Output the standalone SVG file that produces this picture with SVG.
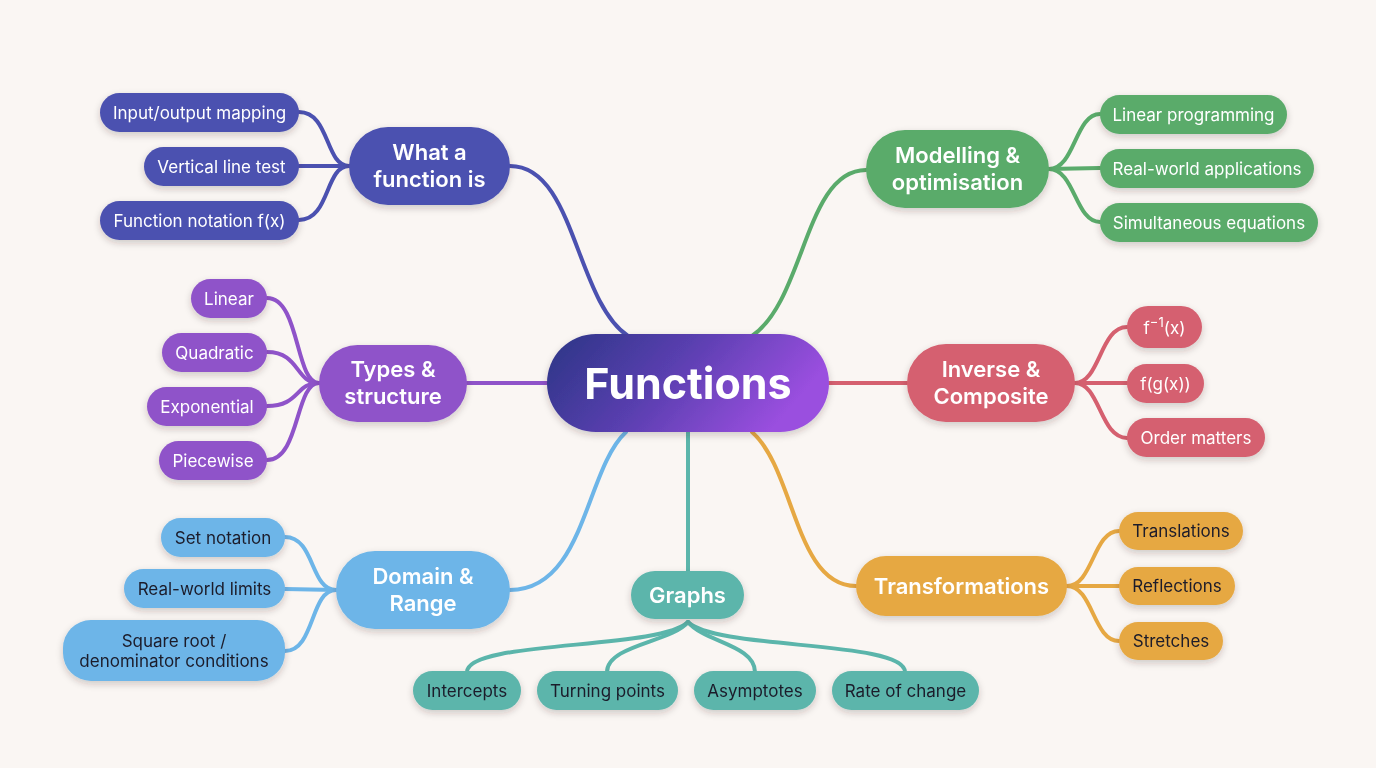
<svg xmlns="http://www.w3.org/2000/svg" width="1376" height="768" viewBox="0 0 1376 768">
<defs>
<linearGradient id="gc" x1="0" y1="0" x2="1" y2="0.3">
<stop offset="0" stop-color="#2b3585"/>
<stop offset="0.5" stop-color="#5a3fb0"/>
<stop offset="1" stop-color="#9a4fdf"/>
</linearGradient>
<filter id="sh" x="-20%" y="-30%" width="140%" height="170%">
<feDropShadow dx="0" dy="3" stdDeviation="3.5" flood-color="#3a2a20" flood-opacity="0.22"/>
</filter>
<style>
text{font-family:Inter,"Noto Sans","Liberation Sans",sans-serif;text-anchor:middle}
.p{font-size:22px;font-weight:600;fill:#ffffff}
.c{font-size:17px;fill:#ffffff}
.d{font-size:17px;fill:#1c1c2a}
.n{filter:url(#sh)}
.l{fill:none;stroke-width:4;stroke-linecap:round}
.blue{fill:#4b51b0}.green{fill:#5aab6b}.purple{fill:#8f53c9}.red{fill:#d5606f}.sky{fill:#6db5e8}.teal{fill:#5bb5ab}.gold{fill:#e6a843}
</style>
</defs>
<rect width="1376" height="768" fill="#faf6f3"/>
<g id="connectors">
<path class="l" stroke="#4b51b0" d="M510,166 C575,166 575,300 628,336"/>
<path class="l" stroke="#4b51b0" d="M299,112 C330,112 325,166 349,166"/>
<path class="l" stroke="#4b51b0" d="M299,166 L349,166"/>
<path class="l" stroke="#4b51b0" d="M299,220 C330,220 325,166 349,166"/>
<path class="l" stroke="#5aab6b" d="M866,170 C805,170 805,300 752,336"/>
<path class="l" stroke="#5aab6b" d="M1049,169 C1075,169 1075,114 1100,114"/>
<path class="l" stroke="#5aab6b" d="M1049,169 L1100,168"/>
<path class="l" stroke="#5aab6b" d="M1049,169 C1075,169 1075,222 1100,222"/>
<path class="l" stroke="#8f53c9" d="M467,383 L547,383"/>
<path class="l" stroke="#8f53c9" d="M267,298 C300,298 295,383 319,383"/>
<path class="l" stroke="#8f53c9" d="M267,352 C300,352 295,383 319,383"/>
<path class="l" stroke="#8f53c9" d="M267,406 C300,406 295,383 319,383"/>
<path class="l" stroke="#8f53c9" d="M267,460 C300,460 295,383 319,383"/>
<path class="l" stroke="#d5606f" d="M829,383 L907,383"/>
<path class="l" stroke="#d5606f" d="M1075,383 C1100,383 1100,327 1127,327"/>
<path class="l" stroke="#d5606f" d="M1075,383 L1127,383"/>
<path class="l" stroke="#d5606f" d="M1075,383 C1100,383 1100,438 1127,438"/>
<path class="l" stroke="#6db5e8" d="M626,432 C585,470 585,590 510,590"/>
<path class="l" stroke="#6db5e8" d="M285,537 C315,537 310,590 336,590"/>
<path class="l" stroke="#6db5e8" d="M285,589 L336,590"/>
<path class="l" stroke="#6db5e8" d="M285,651 C315,651 310,590 336,590"/>
<path class="l" stroke="#5bb5ab" d="M688,432 L688,571"/>
<path class="l" stroke="#5bb5ab" d="M688,622 C660,650 467,640 467,672"/>
<path class="l" stroke="#5bb5ab" d="M688,622 C672,642 607,645 607,672"/>
<path class="l" stroke="#5bb5ab" d="M688,622 C704,642 755,645 755,672"/>
<path class="l" stroke="#5bb5ab" d="M688,622 C716,650 905,640 905,672"/>
<path class="l" stroke="#e6a843" d="M752,432 C795,470 795,586 856,586"/>
<path class="l" stroke="#e6a843" d="M1067,586 C1093,586 1093,531 1119,531"/>
<path class="l" stroke="#e6a843" d="M1067,586 L1119,586"/>
<path class="l" stroke="#e6a843" d="M1067,586 C1093,586 1093,641 1119,641"/>
</g>
<g id="central" class="n">
<rect x="547" y="334" width="282" height="98" rx="49" fill="url(#gc)"/>
<text x="688" y="399" style="font-size:43px;font-weight:700;fill:#fff">Functions</text>
</g>
<g id="what-a-function-is" class="n">
<rect class="blue" x="349" y="127" width="161" height="78" rx="39"/>
<text class="p" x="429.5" y="160">What a</text>
<text class="p" x="429.5" y="187">function is</text>
</g>
<g id="input-output" class="n"><rect class="blue" x="100" y="93" width="199" height="39" rx="19.5"/><text class="c" x="199.5" y="118.5">Input/output mapping</text></g>
<g id="vertical-line" class="n"><rect class="blue" x="144" y="147" width="155" height="39" rx="19.5"/><text class="c" x="221.5" y="172.5">Vertical line test</text></g>
<g id="notation" class="n"><rect class="blue" x="100" y="201" width="199" height="39" rx="19.5"/><text class="c" x="199.5" y="226.5">Function notation f(x)</text></g>
<g id="modelling" class="n">
<rect class="green" x="866" y="130" width="183" height="78" rx="39"/>
<text class="p" x="957.5" y="163">Modelling &amp;</text>
<text class="p" x="957.5" y="190">optimisation</text>
</g>
<g id="linear-programming" class="n"><rect class="green" x="1100" y="95" width="187" height="39" rx="19.5"/><text class="c" x="1193.5" y="120.5">Linear programming</text></g>
<g id="real-world-apps" class="n"><rect class="green" x="1100" y="149" width="214" height="39" rx="19.5"/><text class="c" x="1207" y="174.5">Real-world applications</text></g>
<g id="simultaneous" class="n"><rect class="green" x="1100" y="203" width="218" height="39" rx="19.5"/><text class="c" x="1209" y="228.5">Simultaneous equations</text></g>
<g id="types" class="n">
<rect class="purple" x="319" y="345" width="148" height="77" rx="38.5"/>
<text class="p" x="393" y="377">Types &amp;</text>
<text class="p" x="393" y="404">structure</text>
</g>
<g id="linear" class="n"><rect class="purple" x="191" y="279" width="76" height="39" rx="19.5"/><text class="c" x="229" y="304.5">Linear</text></g>
<g id="quadratic" class="n"><rect class="purple" x="162" y="333" width="105" height="39" rx="19.5"/><text class="c" x="214.5" y="358.5">Quadratic</text></g>
<g id="exponential" class="n"><rect class="purple" x="147" y="387" width="120" height="39" rx="19.5"/><text class="c" x="207" y="412.5">Exponential</text></g>
<g id="piecewise" class="n"><rect class="purple" x="159" y="441" width="108" height="39" rx="19.5"/><text class="c" x="213" y="466.5">Piecewise</text></g>
<g id="inverse" class="n">
<rect class="red" x="907" y="344" width="168" height="78" rx="39"/>
<text class="p" x="991" y="377">Inverse &amp;</text>
<text class="p" x="991" y="404">Composite</text>
</g>
<g id="f-inverse" class="n"><rect class="red" x="1127" y="306" width="75" height="42" rx="21"/><text class="c" x="1164.5" y="334">f<tspan dy="-7" font-size="13">−1</tspan><tspan dy="7">(x)</tspan></text></g>
<g id="fgx" class="n"><rect class="red" x="1127" y="364" width="77" height="39" rx="19.5"/><text class="c" x="1165.5" y="389.5">f(g(x))</text></g>
<g id="order-matters" class="n"><rect class="red" x="1127" y="418" width="138" height="39" rx="19.5"/><text class="c" x="1196" y="444">Order matters</text></g>
<g id="domain" class="n">
<rect class="sky" x="336" y="551" width="174" height="78" rx="39"/>
<text class="p" x="423" y="584">Domain &amp;</text>
<text class="p" x="423" y="611">Range</text>
</g>
<g id="set-notation" class="n"><rect class="sky" x="161" y="518" width="124" height="39" rx="19.5"/><text class="d" x="223" y="543.5">Set notation</text></g>
<g id="real-world-limits" class="n"><rect class="sky" x="124" y="569" width="161" height="39" rx="19.5"/><text class="d" x="204.5" y="594.5">Real-world limits</text></g>
<g id="sqrt-conditions" class="n"><rect class="sky" x="63" y="620" width="222" height="61" rx="28"/><text class="d" x="174" y="647">Square root /</text><text class="d" x="174" y="667">denominator conditions</text></g>
<g id="graphs" class="n">
<rect class="teal" x="631" y="571" width="113" height="48" rx="24"/>
<text class="p" x="687.5" y="603">Graphs</text>
</g>
<g id="intercepts" class="n"><rect class="teal" x="413" y="671" width="108" height="39" rx="19.5"/><text class="d" x="467" y="696.5">Intercepts</text></g>
<g id="turning-points" class="n"><rect class="teal" x="537" y="671" width="141" height="39" rx="19.5"/><text class="d" x="607.5" y="696.5">Turning points</text></g>
<g id="asymptotes" class="n"><rect class="teal" x="694" y="671" width="122" height="39" rx="19.5"/><text class="d" x="755" y="696.5">Asymptotes</text></g>
<g id="rate-of-change" class="n"><rect class="teal" x="832" y="671" width="147" height="39" rx="19.5"/><text class="d" x="905.5" y="696.5">Rate of change</text></g>
<g id="transformations" class="n">
<rect class="gold" x="856" y="556" width="211" height="60" rx="30"/>
<text class="p" x="961.5" y="594">Transformations</text>
</g>
<g id="translations" class="n"><rect class="gold" x="1119" y="512" width="124" height="38" rx="19"/><text class="d" x="1181" y="537">Translations</text></g>
<g id="reflections" class="n"><rect class="gold" x="1119" y="567" width="116" height="38" rx="19"/><text class="d" x="1177" y="592">Reflections</text></g>
<g id="stretches" class="n"><rect class="gold" x="1119" y="622" width="104" height="38" rx="19"/><text class="d" x="1171" y="647">Stretches</text></g>
</svg>
